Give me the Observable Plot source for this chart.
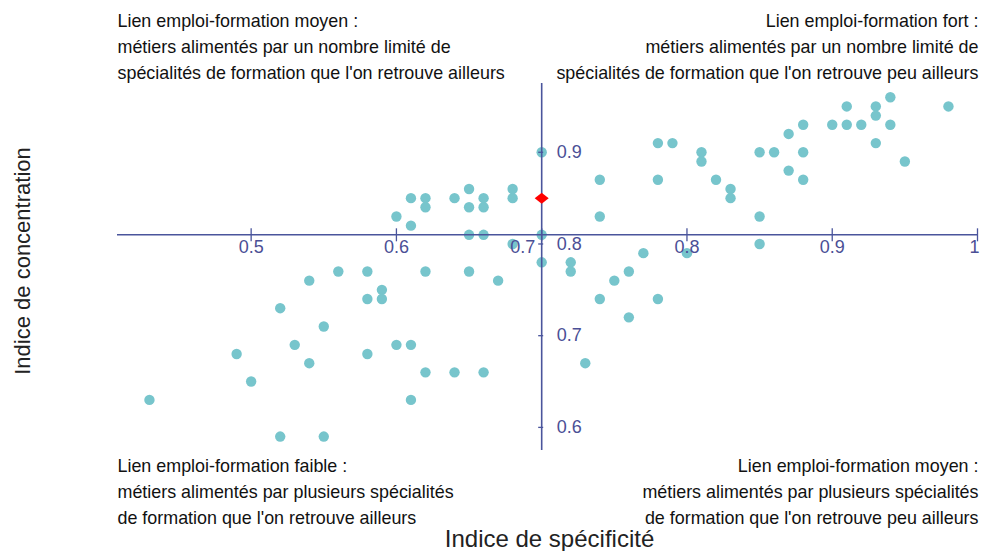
<!DOCTYPE html>
<html><head><meta charset="utf-8">
<script src="https://cdn.jsdelivr.net/npm/d3@7"></script>
<script src="https://cdn.jsdelivr.net/npm/@observablehq/plot@0.6"></script>
<style>
body{margin:0;background:#fff} svg{display:block}
</style>
</head><body><div id="chart"></div>
<script>
// Indice de spécificité (x) et Indice de concentration (y) par métier
const specificite = [
  0.70,0.61,0.62,0.62,0.64,0.65,0.65,0.66,0.66,0.68,0.68,0.60,0.61,0.65,0.66,0.70,
  0.68,0.70,0.56,0.58,0.62,0.65,0.54,0.67,0.59,0.58,0.59,0.52,0.55,0.53,0.60,0.61,
  0.49,0.58,0.54,0.62,0.64,0.66,0.50,0.43,0.61,0.52,0.55,
  0.74,0.74,0.78,0.79,0.78,0.81,0.81,0.82,0.83,0.83,0.85,0.86,0.85,0.85,0.87,0.87,
  0.88,0.88,0.88,0.90,0.91,0.91,0.92,0.93,0.93,0.93,0.94,0.94,0.95,0.98,
  0.80,0.72,0.72,0.77,0.76,0.75,0.74,0.78,0.76,0.73
];
const concentration = [
  0.90,0.85,0.85,0.84,0.85,0.86,0.84,0.85,0.84,0.86,0.85,0.83,0.82,0.81,0.81,0.81,
  0.80,0.78,0.77,0.77,0.77,0.77,0.76,0.76,0.75,0.74,0.74,0.73,0.71,0.69,0.69,0.69,
  0.68,0.68,0.67,0.66,0.66,0.66,0.65,0.63,0.63,0.59,0.59,
  0.87,0.83,0.91,0.91,0.87,0.90,0.89,0.87,0.86,0.85,0.90,0.90,0.83,0.80,0.92,0.88,
  0.93,0.90,0.87,0.93,0.95,0.93,0.93,0.95,0.94,0.91,0.96,0.93,0.89,0.95,
  0.79,0.78,0.77,0.79,0.77,0.76,0.74,0.74,0.72,0.67
];
// Point mis en évidence (losange rouge)
const highlightX = [0.70];
const highlightY = [0.85];
// Croisement des axes
const crossX = 0.70;
const crossY = 0.81;

const xTicks = [0.5, 0.6, 0.7, 0.8, 0.9, 1];
const xTickLabels = ["0.5", "0.6", "0.7", "0.8", "0.9", "1"];
const yTicks = [0.6, 0.7, 0.8, 0.9];
const yTickLabels = ["0.6", "0.7", "0.8", "0.9"];

const quadrantTopLeft = ["Lien emploi-formation moyen :", "métiers alimentés par un nombre limité de", "spécialités de formation que l'on retrouve ailleurs"];
const quadrantTopRight = ["Lien emploi-formation fort :", "métiers alimentés par un nombre limité de", "spécialités de formation que l'on retrouve peu ailleurs"];
const quadrantBottomLeft = ["Lien emploi-formation faible :", "métiers alimentés par plusieurs spécialités", "de formation que l'on retrouve ailleurs"];
const quadrantBottomRight = ["Lien emploi-formation moyen :", "métiers alimentés par plusieurs spécialités", "de formation que l'on retrouve peu ailleurs"];
const xTitle = "Indice de spécificité";
const yTitle = "Indice de concentration";

const points = specificite.map((x, i) => ({x, y: concentration[i]}));
const highlight = highlightX.map((x, i) => ({x, y: highlightY[i]}));
const xTickData = xTicks.map((v, i) => ({v, label: xTickLabels[i]}));
const yTickData = yTicks.map((v, i) => ({v, label: yTickLabels[i]}));

const axisColor = "#4a559c";
const labelColor = "#4b4f96";
const font = "'Liberation Sans', Arial, sans-serif";
const annSize = 17.9, lh = 26 / 17.9;

const diamond = {
  draw(ctx) {
    ctx.moveTo(0, -5.5); ctx.lineTo(7, 0); ctx.lineTo(0, 5.5); ctx.lineTo(-7, 0); ctx.closePath();
  }
};

const ann = {lineHeight: lh, fontSize: annSize, fill: "#111"};
const tickLbl = {fill: labelColor, fontSize: 18};

const chart = Plot.plot({
  width: 981,
  height: 551,
  marginLeft: 117,
  marginRight: 4,
  marginTop: 83,
  marginBottom: 101,
  style: {fontFamily: font, background: "#fff"},
  x: {domain: [0.408, 1.0], axis: null},
  y: {domain: [0.5748, 0.975], axis: null},
  marks: [
    Plot.dot(points, {x: "x", y: "y", r: 5.2, fill: "#77c5cc", stroke: "none"}),
    Plot.ruleY([crossY], {stroke: axisColor, strokeWidth: 1.6}),
    Plot.ruleX([crossX], {stroke: axisColor, strokeWidth: 1.6}),
    Plot.ruleX(xTicks, {x: d => d, y1: () => crossY, y2: () => crossY, insetTop: -6, insetBottom: -7, stroke: axisColor, strokeWidth: 1.3}),
    Plot.ruleY(yTicks, {y: d => d, x1: () => crossX, x2: () => crossX, insetLeft: -3, insetRight: -2, stroke: axisColor, strokeWidth: 1.3}),
    Plot.text(xTickData.filter(d => d.v !== crossX && d.v !== 1), {...tickLbl, x: "v", y: () => crossY, text: "label", dy: 12, textAnchor: "middle"}),
    Plot.text(xTickData.filter(d => d.v === crossX), {...tickLbl, x: "v", y: () => crossY, text: "label", dy: 12, dx: -19, textAnchor: "middle"}),
    Plot.text(xTickData.filter(d => d.v === 1), {...tickLbl, x: "v", y: () => crossY, text: "label", dy: 12, dx: 2, textAnchor: "end"}),
    Plot.text(yTickData, {...tickLbl, x: () => crossX, y: "v", text: "label", dx: 15, textAnchor: "start"}),
    Plot.dot(highlight, {x: "x", y: "y", symbol: diamond, fill: "#ff0000", stroke: "none"}),
    Plot.text([quadrantTopLeft.join("\n")], {...ann, frameAnchor: "top-left", dy: -75, textAnchor: "start"}),
    Plot.text([quadrantTopRight.join("\n")], {...ann, frameAnchor: "top-right", dy: -75, dx: 1, textAnchor: "end"}),
    Plot.text([quadrantBottomLeft.join("\n")], {...ann, frameAnchor: "bottom-left", dy: 73, textAnchor: "start"}),
    Plot.text([quadrantBottomRight.join("\n")], {...ann, frameAnchor: "bottom-right", dy: 73, dx: 1, textAnchor: "end"}),
    Plot.text([xTitle], {frameAnchor: "bottom", dy: 96, dx: 2, fontSize: 24, fill: "#222"}),
    Plot.text([yTitle], {frameAnchor: "left", dx: -95, dy: -6, rotate: -90, textAnchor: "middle", lineAnchor: "middle", fontSize: 22, fill: "#222"})
  ]
});
document.getElementById("chart").appendChild(chart);
</script>
</body></html>
